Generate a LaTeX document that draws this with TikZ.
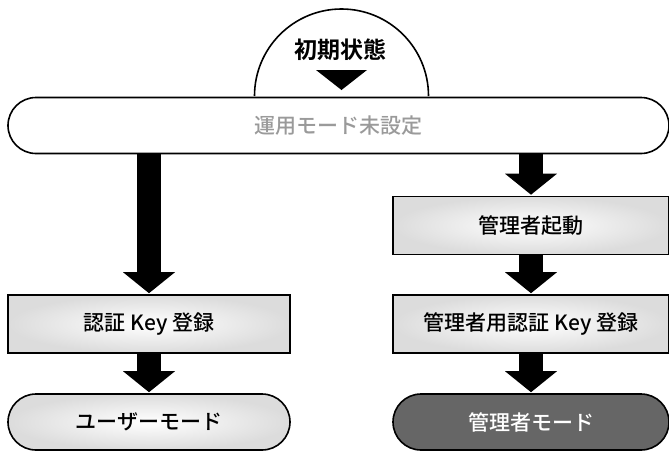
\documentclass[tikz,border=0pt]{standalone}
\usepackage{fontspec}
\setmainfont{Noto Sans CJK JP}[UprightFont={* Medium}, BoldFont={* Bold}]
\usetikzlibrary{shapes.misc,arrows.meta}
\definecolor{StateGray}{HTML}{666666}
\definecolor{LabelGray}{HTML}{9A9A9A}
\definecolor{BoxEdge}{HTML}{DCDCDC}
\tikzset{
    pill/.style={rounded rectangle, draw, line width=1.6pt, inner sep=0,
                 minimum height=56pt, font=\fontsize{21}{25}\selectfont},
    stepbox/.style={rectangle, draw, line width=1.6pt, inner sep=0,
                 minimum height=58pt, font=\fontsize{21}{25}\selectfont,
                 shading=radial, inner color=white, outer color=BoxEdge},
    %
    flatstyle/.style={fill=white},
    softstyle/.style={shading=radial, inner color=white, outer color=BoxEdge},
    darkstyle/.style={fill=StateGray, text=white},
    %
    bigarrow/.style={line width=24pt,
                 -{Triangle[width=52pt 0 0, length=21pt 0 0, line width=0pt 0 0]},
                 shorten >=1pt},
}
\newcommand{\flowArrow}[2]{%
    \draw[bigarrow] (#1) -- (#2);
}

\begin{document}
\begin{tikzpicture}[x=1pt, y=-1pt]
        \useasboundingbox (0,0) rectangle (669,451);
        % Start
        \draw[line width=1.6pt, fill=white] (254.5,96) arc (180:360:87);
        \node[font=\fontsize{23}{27}\selectfont\bfseries] (Init) at (340.5,50) {初期状態};
        \fill (316,70) -- (367,70) -- (341.5,90) -- cycle;
        \node[pill, flatstyle, minimum width=661pt, text=LabelGray] (Unset) at (338.5,125.5) {運用モード未設定};
        %
        % Left column
        \node[stepbox, minimum width=282pt] (KeyReg) at (149,324) {認証 Key 登録};
        \node[pill, softstyle, minimum width=282pt] (UserMode) at (149,422) {ユーザーモード};
        %
        % Right column
        \node[stepbox, minimum width=276pt] (AdminStart) at (531,225.5) {管理者起動};
        \node[stepbox, minimum width=276pt] (AdminKeyReg) at (531,324) {管理者用認証 Key 登録};
        \node[pill, darkstyle, minimum width=276pt] (AdminMode) at (531,422) {管理者モード};
        %
        % Arrows
        \flowArrow{Unset.south -| KeyReg.north}{KeyReg.north}
        \flowArrow{KeyReg}{UserMode}
        \flowArrow{Unset.south -| AdminStart.north}{AdminStart.north}
        \flowArrow{AdminStart}{AdminKeyReg}
        \flowArrow{AdminKeyReg}{AdminMode}
    \end{tikzpicture}
\end{document}
